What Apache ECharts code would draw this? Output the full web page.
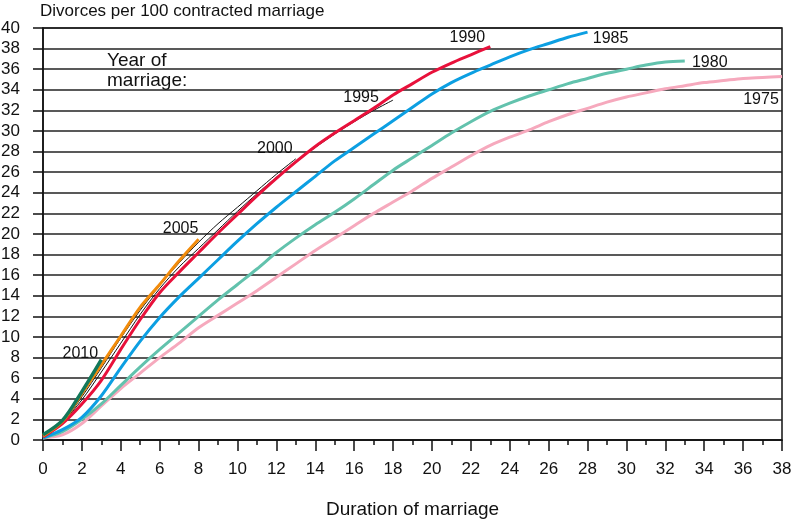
<!DOCTYPE html>
<html>
<head>
<meta charset="utf-8">
<script src="https://cdn.jsdelivr.net/npm/echarts@6/dist/echarts.min.js"></script>
<style>
  html, body { margin: 0; padding: 0; background: #fff; }
  #chart { width: 792px; height: 523px; }
</style>
</head>
<body>
<div id="chart"></div>
<script>
// duration of marriage, years
const durations = [0, 1, 2, 3, 4, 5, 6, 7, 8, 9, 10, 11, 12, 13, 14, 15, 16, 17, 18, 19,
  20, 21, 22, 23, 24, 25, 26, 27, 28, 29, 30, 31, 32, 33, 34, 35, 36, 37, 38];

// divorces per 100 contracted marriages, by year of marriage
const div1975 = [0.2, 0.5, 1.6, 3.3, 5.0, 6.5, 8.0, 9.4, 10.9, 12.1, 13.3, 14.5, 15.8, 17.1, 18.4, 19.6,
  20.8, 22.0, 23.1, 24.2, 25.4, 26.5, 27.6, 28.6, 29.4, 30.1, 30.9, 31.6, 32.2, 32.8, 33.3, 33.7,
  34.1, 34.4, 34.7, 34.9, 35.1, 35.2, 35.3];
const div1980 = [0.2, 0.8, 2.0, 3.5, 5.3, 7.1, 8.8, 10.4, 12.0, 13.6, 15.1, 16.6, 18.2, 19.6, 20.9, 22.1,
  23.4, 24.8, 26.2, 27.4, 28.6, 29.8, 30.9, 31.9, 32.7, 33.4, 34.0, 34.6, 35.1, 35.6, 36.0, 36.4,
  36.7, 36.8];
const div1985 = [0.2, 1.0, 2.2, 4.3, 7.0, 9.6, 11.9, 13.9, 15.7, 17.5, 19.3, 21.0, 22.6, 24.1, 25.6, 27.1,
  28.4, 29.7, 31.0, 32.3, 33.6, 34.7, 35.6, 36.4, 37.2, 37.9, 38.5, 39.1, 39.6];
const div1990 = [0.3, 1.6, 3.5, 5.8, 8.8, 11.7, 14.3, 16.3, 18.2, 20.1, 21.9, 23.7, 25.4, 27.0, 28.5, 29.8,
  31.0, 32.2, 33.5, 34.6, 35.7, 36.6, 37.4, 38.2];
const div1995 = [0.3, 1.7, 3.9, 6.6, 9.4, 12.2, 14.7, 16.8, 18.6, 20.4, 22.2, 23.9, 25.5, 27.0, 28.4, 29.7,
  30.9, 32.0, 33.0];
const div2000 = [0.4, 1.7, 4.2, 7.0, 9.9, 12.6, 15.0, 17.2, 19.2, 21.0, 22.6, 24.2, 25.8, 27.3];
const div2005 = [0.4, 1.8, 4.5, 7.3, 10.1, 12.9, 15.1, 17.4, 19.5];
const div2010 = [0.5, 1.9, 4.7, 7.8];

const yTicks = { min: 0, max: 40, interval: 2 };
const xTicks = { min: 0, max: 38, interval: 2 };

// style per year of marriage: colour, width, label offset from the line end
const styles = {
  '1975': { color: '#f6a9bd', width: 3, offset: [-21, 23] },
  '1980': { color: '#62c2ad', width: 3, offset: [25, 2] },
  '1985': { color: '#0c9fe2', width: 3, offset: [23, 6] },
  '1995': { color: '#111111', width: 1, offset: [-32, -3] },
  '1990': { color: '#e8113b', width: 3, offset: [-23, -9] },
  '2000': { color: '#111111', width: 1, offset: [-21, -10] },
  '2005': { color: '#f28c0c', width: 3, offset: [-18, -11] },
  '2010': { color: '#12785a', width: 3.5, offset: [-21, -6] }
};

// drawing order, later on top
const seriesValues = [
  ['1975', div1975], ['1980', div1980], ['1985', div1985], ['1995', div1995],
  ['1990', div1990], ['2000', div2000], ['2005', div2005], ['2010', div2010]
];

const FONT = 'Liberation Sans, Arial, sans-serif';

const chart = echarts.init(document.getElementById('chart'));

const series = seriesValues.map(([year, values]) => {
  const st = styles[year];
  const data = values.map((v, i) => {
    const item = { value: [durations[i], v] };
    if (i === values.length - 1) {
      item.label = {
        show: true,
        position: 'inside',
        offset: st.offset,
        formatter: year,
        color: '#111',
        fontFamily: FONT,
        fontSize: 16
      };
    }
    return item;
  });
  return {
    name: year,
    type: 'line',
    data: data,
    smooth: 0.3,
    symbol: 'circle',
    symbolSize: 0,
    showSymbol: true,
    label: { show: false },
    lineStyle: { color: st.color, width: st.width },
    itemStyle: { color: st.color },
    silent: true
  };
});

const option = {
  animation: false,
  backgroundColor: '#fff',
  title: {
    text: 'Divorces per 100 contracted marriage',
    left: 40,
    top: 0,
    padding: [3, 0, 0, 0],
    textStyle: { fontFamily: FONT, fontSize: 17, fontWeight: 'normal', color: '#111' }
  },
  graphic: [
    {
      type: 'text',
      left: 107,
      top: 51,
      style: {
        text: 'Year of\nmarriage:',
        font: '19px ' + FONT,
        fill: '#111',
        lineHeight: 20
      }
    }
  ],
  grid: {
    left: 43,
    right: 10,
    top: 28,
    bottom: 83,
    outerBoundsMode: 'none',
    show: true,
    borderColor: '#111',
    borderWidth: 1.5
  },
  xAxis: {
    type: 'value',
    min: xTicks.min,
    max: xTicks.max,
    interval: xTicks.interval,
    name: 'Duration of marriage',
    nameLocation: 'middle',
    nameGap: 60,
    nameTextStyle: { fontFamily: FONT, fontSize: 19, color: '#111' },
    axisLine: { show: true, lineStyle: { color: '#111', width: 1.5 } },
    axisTick: { show: true, length: 11, lineStyle: { color: '#111', width: 1.5 } },
    minorTick: { show: true, splitNumber: 2, length: 5, lineStyle: { color: '#111', width: 1.5 } },
    axisLabel: { fontFamily: FONT, fontSize: 17, color: '#111', margin: 21 },
    splitLine: { show: false }
  },
  yAxis: {
    type: 'value',
    min: yTicks.min,
    max: yTicks.max,
    interval: yTicks.interval,
    axisLine: { show: true, lineStyle: { color: '#111', width: 1.5 } },
    axisTick: { show: true, length: 10, lineStyle: { color: '#111', width: 1.5 } },
    axisLabel: { fontFamily: FONT, fontSize: 17, color: '#111', margin: 23 },
    splitLine: { show: true, lineStyle: { color: '#222', width: 1.5 } }
  },
  series: series
};

chart.setOption(option);
</script>
</body>
</html>
